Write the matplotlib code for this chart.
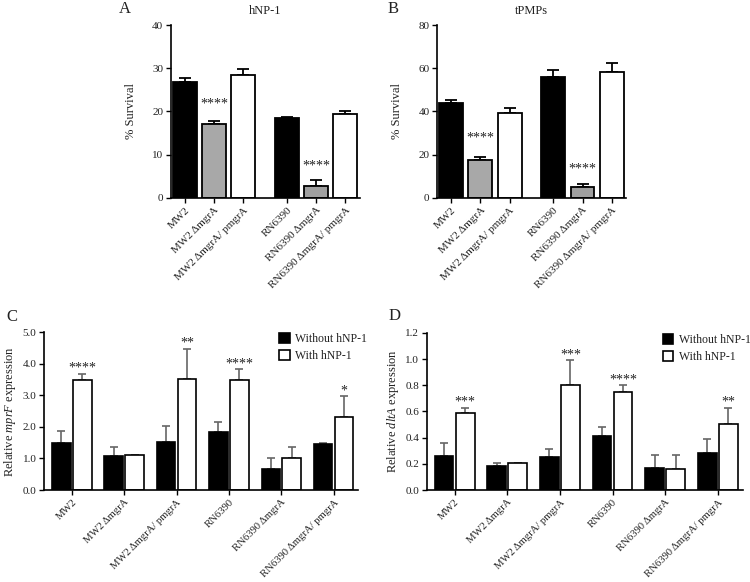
import numpy as np
import matplotlib.pyplot as plt

plt.rcParams['font.family'] = ['Liberation Serif', 'DejaVu Serif']
plt.rcParams['mathtext.fontset'] = 'custom'
plt.rcParams['mathtext.rm'] = 'Liberation Serif'
plt.rcParams['mathtext.it'] = 'Liberation Serif:italic'
plt.rcParams['axes.linewidth'] = 1.2

# panel A / B : survival
strains_ab = ['MW2', 'MW2 ΔmgrA', 'MW2 ΔmgrA/ pmgrA',
              'RN6390', 'RN6390 ΔmgrA', 'RN6390 ΔmgrA/ pmgrA']
hnp_surv = [26.7, 17.2, 28.5, 18.5, 2.8, 19.3]
hnp_err = [1.0, 0.6, 1.4, 0.3, 1.3, 0.7]
tpmp_surv = [44.0, 17.5, 39.5, 56.0, 5.2, 58.3]
tpmp_err = [1.5, 1.3, 2.2, 3.0, 1.2, 4.3]
surv_colors = ['black', '#a8a8a8', 'white', 'black', '#a0a0a0', 'white']

# panel C / D : expression
strains_cd = ['MW2', 'MW2 ΔmgrA', 'MW2 ΔmgrA/ pmgrA',
              'RN6390', 'RN6390 ΔmgrA', 'RN6390 ΔmgrA/ pmgrA']
mprf_without = [1.50, 1.08, 1.52, 1.85, 0.68, 1.45]
mprf_without_err = [0.38, 0.28, 0.52, 0.32, 0.32, 0.03]
mprf_with = [3.48, 1.12, 3.52, 3.48, 1.03, 2.32]
mprf_with_err = [0.20, 0.0, 0.95, 0.35, 0.33, 0.65]
mprf_stars = ['****', '', '**', '****', '', '*']

dlta_without = [0.26, 0.18, 0.25, 0.41, 0.17, 0.28]
dlta_without_err = [0.10, 0.03, 0.065, 0.075, 0.095, 0.11]
dlta_with = [0.59, 0.21, 0.80, 0.745, 0.16, 0.505]
dlta_with_err = [0.04, 0.0, 0.19, 0.055, 0.105, 0.125]
dlta_stars = ['***', '', '***', '****', '', '**']

txt = '#222222'


def style_axes(ax):
    for s in ['top', 'right']:
        ax.spines[s].set_visible(False)
    ax.tick_params(axis='both', labelsize=8, colors='black', labelcolor=txt,
                   length=3.5, width=1.0, pad=2)


def survival_panel(ax, vals, errs, ymax, title, stars_y):
    x = np.array([0, 1, 2, 3.5, 4.5, 5.5])
    ax.bar(x, vals, width=0.82, color=surv_colors, edgecolor='black', linewidth=1.3, zorder=2)
    ax.errorbar(x, vals, yerr=[np.zeros(6), errs], fmt='none', ecolor='black',
                elinewidth=1.3, capsize=4, capthick=1.3, zorder=1)
    for i, y in stars_y:
        ax.text(x[i], y, '****', ha='center', va='center', fontsize=10, color=txt)
    ax.set_ylim(0, ymax)
    ax.set_yticks(np.linspace(0, ymax, 5))
    ax.set_xlim(-0.48, 6.0)
    ax.set_xticks(x)
    ax.set_xticklabels(strains_ab, rotation=45, ha='right', rotation_mode='anchor')
    ax.set_ylabel('% Survival', fontsize=9, color=txt, labelpad=11)
    style_axes(ax)
    ax.set_title(title, fontsize=9, color=txt, pad=8)


def expression_panel(ax, without, without_err, with_, with_err, stars, ymax, yticks, gene):
    x = np.arange(6)
    w = 0.355
    off = 0.2
    ax.bar(x - off, without, width=w, color='black', edgecolor='black', linewidth=1.2,
           label='Without hNP-1', zorder=2)
    ax.bar(x + off, with_, width=w, color='white', edgecolor='black', linewidth=1.2,
           label='With hNP-1', zorder=2)
    ax.errorbar(x - off, without, yerr=[np.zeros(6), without_err], fmt='none', ecolor='#666666',
                elinewidth=1.2, capsize=3, capthick=1.2, zorder=1)
    ax.errorbar(x + off, with_, yerr=[np.zeros(6), with_err], fmt='none', ecolor='#666666',
                elinewidth=1.2, capsize=3, capthick=1.2, zorder=1)
    for i, s in enumerate(stars):
        if s:
            ax.text(x[i] + off, with_[i] + with_err[i] + ymax * 0.035, s,
                    ha='center', va='center', fontsize=10, color=txt)
    ax.set_ylim(0, ymax)
    ax.set_yticks(yticks)
    ax.set_yticklabels(['{:.1f}'.format(t) for t in yticks])
    ax.set_xlim(-0.53, 5.47)
    ax.set_xticks(x)
    ax.set_xticklabels(strains_cd, rotation=45, ha='right', rotation_mode='anchor')
    ax.set_ylabel('Relative $\\mathit{' + gene + '}$ expression', fontsize=9, color=txt, labelpad=3)
    style_axes(ax)
    ax.tick_params(axis='x', labelsize=7.7)
    leg = ax.legend(loc='upper left', bbox_to_anchor=(0.725, 1.04), frameon=False, fontsize=8.5,
                    handlelength=0.9, handleheight=0.9, handletextpad=0.5, labelspacing=0.45,
                    borderaxespad=0.2)
    for t in leg.get_texts():
        t.set_color(txt)


fig = plt.figure(figsize=(7.5, 5.82), dpi=100)

ax_a = fig.add_axes([0.228, 0.660, 0.252, 0.297])
survival_panel(ax_a, hnp_surv, hnp_err, 40, 'hNP-1', [(1, 21.8), (4, 7.3)])

ax_b = fig.add_axes([0.583, 0.660, 0.252, 0.297])
survival_panel(ax_b, tpmp_surv, tpmp_err, 80, 'tPMPs', [(1, 27.5), (4, 13.3)])

ax_c = fig.add_axes([0.0587, 0.158, 0.419, 0.271])
expression_panel(ax_c, mprf_without, mprf_without_err, mprf_with, mprf_with_err, mprf_stars,
                 5.0, np.arange(0, 5.01, 1.0), 'mprF')

ax_d = fig.add_axes([0.569, 0.158, 0.421, 0.270])
expression_panel(ax_d, dlta_without, dlta_without_err, dlta_with, dlta_with_err, dlta_stars,
                 1.2, np.arange(0, 1.21, 0.2), 'dltA')

for lab, px, py in [('A', 125, 9), ('B', 393, 9), ('C', 12, 317), ('D', 395, 316)]:
    fig.text(px / 750, 1 - py / 582, lab, fontsize=12, color=txt, ha='center', va='center')

fig.savefig('out.png', dpi=100)
